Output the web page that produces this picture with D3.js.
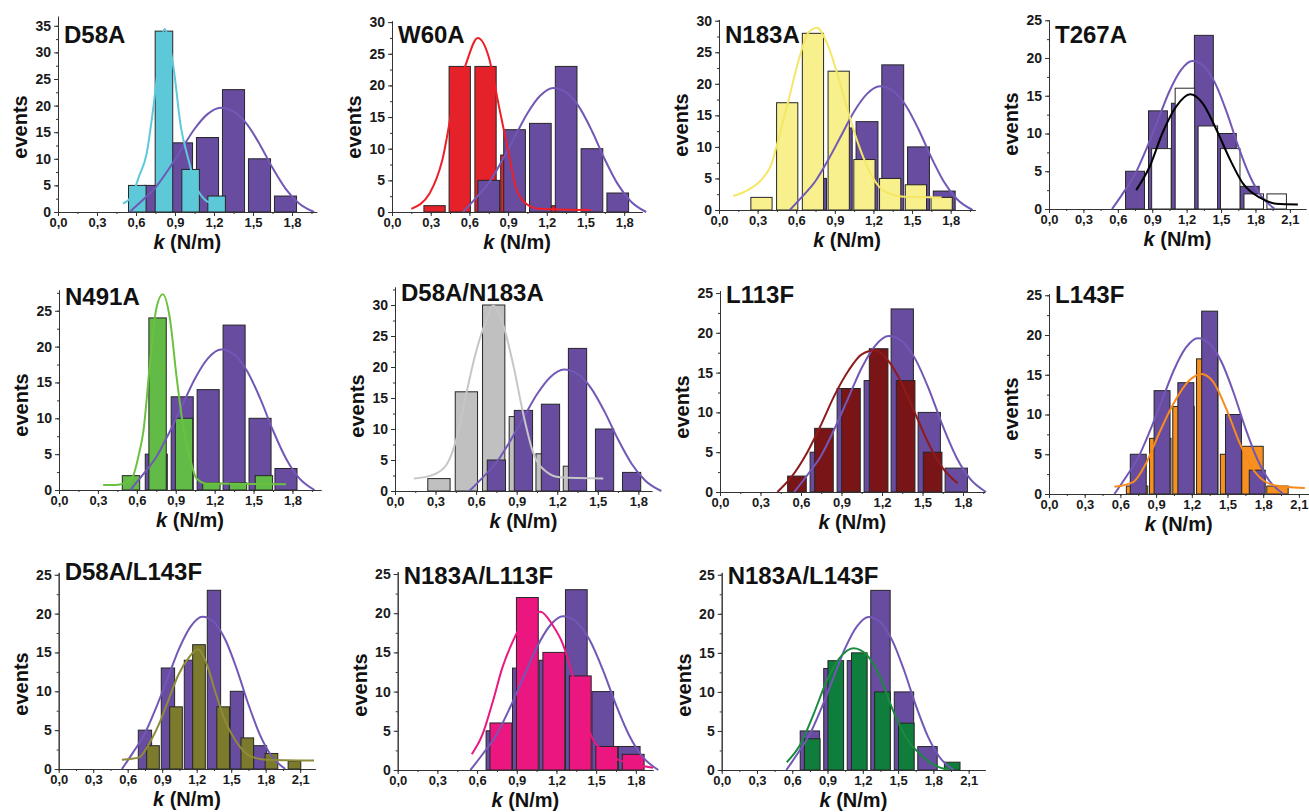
<!DOCTYPE html>
<html>
<head>
<meta charset="utf-8">
<script src="https://cdn.jsdelivr.net/npm/d3@7"></script>
<style>
    body { margin: 0; background: #fff; }
    svg { font-family: "Liberation Sans", Arial, sans-serif; font-weight: bold; }
</style>
</head>
<body>
<svg id="chart" width="1309" height="812"></svg>
<script>
// wild type histogram, repeated in every panel
const wtCenters = [0.75, 0.95, 1.15, 1.35, 1.55, 1.75];
const wtCounts = [5, 13, 14, 23, 10, 3];
const wtFit = [[0.55, 0], [0.65, 2.2], [0.75, 4.6], [0.85, 8], [0.95, 11.8], [1.05, 15.6], [1.15, 18.4], [1.25, 19.6],
    [1.35, 18.9], [1.45, 16.6], [1.55, 12.8], [1.65, 8.3], [1.75, 4.4], [1.85, 1.7], [1.97, 0]];

// mutants
const d58aCenters = [0.61, 0.815, 1.02, 1.22];
const d58aCounts = [5, 34, 8, 3];
const d58aFit = [[0.5, 1.6], [0.565, 2.9], [0.623, 6.7], [0.682, 11], [0.73, 19], [0.78, 29], [0.818, 34.4], [0.887, 27.4],
    [0.945, 16], [1.004, 9.8], [1.062, 4.8], [1.13, 2.3], [1.17, 1.7]];

const w60aCenters = [0.33, 0.525, 0.725, 0.925, 1.32];
const w60aCounts = [1, 23, 23, 9, 1];
const w60aFit = [[0.15, 0.5], [0.29, 2.9], [0.39, 8.2], [0.48, 17.6], [0.57, 23.2], [0.665, 27.5], [0.75, 24.5], [0.83, 16.6],
    [0.9, 9.7], [0.96, 3.9], [1.04, 1.3], [1.14, 0.5], [1.54, 0.3]];

const n183aCenters = [0.33, 0.53, 0.73, 0.93, 1.13, 1.33, 1.53, 1.73];
const n183aCounts = [2, 17, 28, 22, 8, 5, 4, 2];
const n183aFit = [[0.11, 2.2], [0.227, 3.2], [0.33, 4.8], [0.41, 7.4], [0.46, 11.1], [0.54, 17.4], [0.62, 23.8], [0.69, 28],
    [0.76, 28.9], [0.84, 26.4], [0.91, 22.2], [1.0, 15.8], [1.08, 10.6], [1.19, 5.3], [1.29, 2.9], [1.44, 2.1], [1.73, 2.0]];

const t267aCenters = [0.98, 1.185, 1.385, 1.58, 1.785, 1.985];
const t267aCounts = [8, 16, 11, 8, 2, 2];
const t267aFit = [[0.76, 2.5], [0.88, 5.7], [0.99, 10.1], [1.11, 13.6], [1.23, 15.2], [1.34, 14], [1.46, 10.5], [1.58, 6.5],
    [1.69, 3.4], [1.84, 1.5], [1.98, 0.7], [2.17, 0.6]];

const n491aCenters = [0.555, 0.76, 0.964, 1.175, 1.38, 1.58];
const n491aCounts = [2, 24, 10, 1, 1, 2];
const n491aFit = [[0.34, 0.7], [0.44, 0.7], [0.56, 1.6], [0.62, 5.3], [0.65, 8.1], [0.7, 17.4], [0.75, 25.3], [0.8, 27.3],
    [0.855, 23.9], [0.905, 16], [0.956, 9], [1.01, 4.4], [1.06, 1.6], [1.14, 0.9], [1.75, 0.8]];

const d58aN183aCenters = [0.325, 0.528, 0.73, 0.927, 1.125, 1.327];
const d58aN183aCounts = [2, 16, 30, 12, 6, 4];
const d58aN183aFit = [[0.14, 2], [0.28, 2.6], [0.38, 4.2], [0.456, 8.5], [0.53, 16], [0.6, 22.5], [0.68, 27.8], [0.727, 29.9],
    [0.8, 26.8], [0.875, 20.3], [0.95, 12.3], [1.02, 6.3], [1.12, 3.1], [1.22, 2.2], [1.54, 2]];

const l113fCenters = [0.57, 0.77, 0.97, 1.175, 1.375, 1.575];
const l113fCounts = [2, 8, 13, 18, 14, 5];
const l113fFit = [[0.425, 0], [0.525, 1.8], [0.65, 5.1], [0.75, 8.5], [0.85, 12.2], [0.95, 15.2], [1.05, 17.3], [1.15, 17.8],
    [1.25, 16.4], [1.35, 13.5], [1.45, 9.7], [1.55, 5.9], [1.65, 3], [1.76, 1.1]];

const l143fCenters = [0.74, 0.935, 1.13, 1.33, 1.53, 1.71, 1.92];
const l143fCounts = [1, 7, 11, 17, 5, 6, 1];
const l143fFit = [[0.55, 0.9], [0.706, 1.5], [0.82, 4], [0.93, 7.8], [1.04, 11.2], [1.18, 14.3], [1.28, 15.1], [1.38, 14.1],
    [1.49, 10.7], [1.6, 6.5], [1.71, 3.2], [1.85, 1.3], [1.99, 0.9], [2.15, 0.75]];

const d58aL143fCenters = [0.82, 1.02, 1.22, 1.43, 1.64, 1.85, 2.05];
const d58aL143fCounts = [3, 8, 16, 8, 4, 2, 1];
const d58aL143fFit = [[0.55, 1.2], [0.7, 1.5], [0.78, 3.1], [0.87, 5.7], [0.96, 9.1], [1.04, 12.1], [1.13, 14.3], [1.21, 15.4],
    [1.29, 13.4], [1.36, 10], [1.45, 6.1], [1.54, 3.6], [1.65, 1.8], [1.8, 1.2], [2.22, 1.1]];

const n183aL113fCenters = [0.78, 0.98, 1.18, 1.38, 1.58, 1.78];
const n183aL113fCounts = [6, 22, 15, 12, 3, 2];
const n183aL113fFit = [[0.56, 2], [0.64, 4.5], [0.72, 8.8], [0.79, 13], [0.87, 16.4], [0.945, 18.8], [1.02, 20], [1.08, 20.2],
    [1.17, 18.5], [1.25, 16], [1.32, 12.2], [1.4, 7.5], [1.47, 4.1], [1.57, 2.2], [1.7, 1.1], [1.85, 0.5], [1.93, 0.3]];

const n183aL143fCenters = [0.77, 0.97, 1.17, 1.367, 1.57, 1.96];
const n183aL143fCounts = [4, 14, 15, 10, 6, 1];
const n183aL143fFit = [[0.553, 1], [0.666, 3.2], [0.78, 7.1], [0.89, 11.3], [1.0, 14.3], [1.12, 15.6], [1.23, 14.8], [1.35, 11.8],
    [1.46, 7.5], [1.57, 4.1], [1.69, 2], [1.8, 0.7], [1.94, 0]];

const wtFill = "#674c9f";
const wtLine = "#7258b6";

// layout of the 11 panels (pixel origin, pixels per unit, axis extents)
const panels = [
    { name: "D58A", centers: d58aCenters, counts: d58aCounts, fit: d58aFit, fill: "#5cc8d8", line: "#5ec9dc",
      x0: 58, xUnit: 130, xMax: 1.99, y0: 212, yUnit: 5.32, yMax: 36.8, ty: 43, wtW: 0.17, mutW: 0.135, wtFront: false },
    { name: "W60A", centers: w60aCenters, counts: w60aCounts, fit: w60aFit, fill: "#e52129", line: "#ee1f29",
      x0: 392, xUnit: 129, xMax: 1.94, y0: 212, yUnit: 6.33, yMax: 30.2, ty: 43, wtW: 0.168, mutW: 0.165, wtFront: true },
    { name: "N183A", centers: n183aCenters, counts: n183aCounts, fit: n183aFit, fill: "#f8f08c", line: "#f4e766",
      x0: 719, xUnit: 128.7, xMax: 1.99, y0: 210, yUnit: 6.31, yMax: 30.2, ty: 43, wtW: 0.17, mutW: 0.165, wtFront: false },
    { name: "T267A", centers: t267aCenters, counts: t267aCounts, fit: t267aFit, fill: "#ffffff", line: "#000000",
      x0: 1049, xUnit: 114.7, xMax: 2.24, y0: 209, yUnit: 7.55, yMax: 25.05, ty: 43, wtW: 0.165, mutW: 0.17, wtFront: false },
    { name: "N491A", centers: n491aCenters, counts: n491aCounts, fit: n491aFit, fill: "#62bb46", line: "#6cc240",
      x0: 59, xUnit: 129.7, xMax: 2.02, y0: 490, yUnit: 7.17, yMax: 27.9, ty: 305, wtW: 0.17, mutW: 0.134, wtFront: false },
    { name: "D58A/N183A", centers: d58aN183aCenters, counts: d58aN183aCounts, fit: d58aN183aFit, fill: "#c0c0c0", line: "#c6c6c6",
      x0: 395, xUnit: 135.2, xMax: 1.9, y0: 491, yUnit: 6.2, yMax: 32.9, ty: 301, wtW: 0.135, mutW: 0.165, wtFront: true },
    { name: "L113F", centers: l113fCenters, counts: l113fCounts, fit: l113fFit, fill: "#7a1517", line: "#8e1a1c",
      x0: 720, xUnit: 135, xMax: 1.96, y0: 492, yUnit: 7.96, yMax: 25.3, ty: 303, wtW: 0.165, mutW: 0.138, wtFront: false },
    { name: "L143F", centers: l143fCenters, counts: l143fCounts, fit: l143fFit, fill: "#f7901e", line: "#f68b1f",
      x0: 1049, xUnit: 119, xMax: 2.18, y0: 494, yUnit: 7.95, yMax: 25.2, ty: 303, wtW: 0.134, mutW: 0.18, wtFront: true },
    { name: "D58A/L143F", centers: d58aL143fCenters, counts: d58aL143fCounts, fit: d58aL143fFit, fill: "#7b7a2d", line: "#8e8c38",
      x0: 58.7, xUnit: 115, xMax: 2.23, y0: 769, yUnit: 7.77, yMax: 25.3, ty: 580, wtW: 0.116, mutW: 0.11, wtFront: false },
    { name: "N183A/L113F", centers: n183aL113fCenters, counts: n183aL113fCounts, fit: n183aL113fFit, fill: "#ec1681", line: "#ea177f",
      x0: 397.7, xUnit: 132.3, xMax: 1.93, y0: 770, yUnit: 7.84, yMax: 25.3, ty: 584, wtW: 0.164, mutW: 0.165, wtFront: false },
    { name: "N183A/L143F", centers: n183aL143fCenters, counts: n183aL143fCounts, fit: n183aL143fFit, fill: "#0f7d3c", line: "#1a8b3f",
      x0: 721.7, xUnit: 117.6, xMax: 2.24, y0: 770, yUnit: 7.81, yMax: 25.3, ty: 584, wtW: 0.165, mutW: 0.133, wtFront: false }
];

const svg = d3.select("#chart");
const fmt = d => d.toFixed(1).replace(".", ",");

function drawBars(g, x, y, centers, counts, w, fill) {
    g.selectAll(null)
        .data(centers.map((c, i) => ({ c: c, n: counts[i] })))
        .join("rect")
        .attr("x", d => x(d.c - w / 2))
        .attr("width", d => x(d.c + w / 2) - x(d.c - w / 2))
        .attr("y", d => y(d.n))
        .attr("height", d => y(0) - y(d.n))
        .attr("fill", fill)
        .attr("stroke", "#262626")
        .attr("stroke-width", 1);
}

panels.forEach(p => {
    const g = svg.append("g");
    const x = d3.scaleLinear().domain([0, p.xMax]).range([p.x0, p.x0 + p.xMax * p.xUnit]);
    const y = d3.scaleLinear().domain([0, p.yMax]).range([p.y0, p.y0 - p.yMax * p.yUnit]);
    const line = d3.line().x(d => x(d[0])).y(d => y(d[1])).curve(d3.curveMonotoneX);

    if (p.wtFront) {
        drawBars(g, x, y, p.centers, p.counts, p.mutW, p.fill);
        drawBars(g, x, y, wtCenters, wtCounts, p.wtW, wtFill);
    } else {
        drawBars(g, x, y, wtCenters, wtCounts, p.wtW, wtFill);
        drawBars(g, x, y, p.centers, p.counts, p.mutW, p.fill);
    }

    g.append("path").datum(wtFit)
        .attr("d", line).attr("fill", "none")
        .attr("stroke", wtLine).attr("stroke-width", 2);
    g.append("path").datum(p.fit)
        .attr("d", line).attr("fill", "none")
        .attr("stroke", p.line).attr("stroke-width", 2);

    // x axis: minor then major ticks
    g.append("g")
        .attr("transform", `translate(0,${p.y0})`)
        .call(d3.axisBottom(x).tickValues(d3.range(0, p.xMax + 1e-6, 0.15)).tickSizeInner(2).tickSizeOuter(0).tickFormat(""));
    g.append("g")
        .attr("class", "xaxis")
        .attr("transform", `translate(0,${p.y0})`)
        .call(d3.axisBottom(x).tickValues(d3.range(0, p.xMax + 1e-6, 0.3)).tickSizeInner(4).tickSizeOuter(0).tickPadding(2).tickFormat(fmt));

    // y axis
    g.append("g")
        .attr("transform", `translate(${p.x0},0)`)
        .call(d3.axisLeft(y).tickValues(d3.range(0, p.yMax + 1e-6, 2.5)).tickSizeInner(2).tickSizeOuter(0).tickFormat(""));
    g.append("g")
        .attr("transform", `translate(${p.x0},0)`)
        .call(d3.axisLeft(y).tickValues(d3.range(0, p.yMax + 1e-6, 5)).tickSizeInner(4).tickSizeOuter(0).tickFormat(d3.format("d")));

    g.selectAll(".domain, .tick line").attr("stroke", "#333").attr("stroke-width", 1);
    g.selectAll(".tick text")
        .attr("fill", "#1a1a1a")
        .style("font-size", "14px")
        .style("font-weight", "bold");
    g.selectAll(".xaxis .tick text").style("font-size", "13px");

    // panel title
    g.append("text")
        .attr("x", p.x0 + 6)
        .attr("y", p.ty)
        .style("font-size", "24px")
        .attr("fill", "#111")
        .text(p.name);

    // axis titles
    g.append("text")
        .attr("transform", `translate(${p.x0 - 38},${p.y0 - 85}) rotate(-90)`)
        .attr("text-anchor", "middle")
        .attr("dy", "0.35em")
        .style("font-size", "20px")
        .attr("fill", "#111")
        .text("events");

    const xl = g.append("text")
        .attr("x", (x.range()[0] + x.range()[1]) / 2)
        .attr("y", p.y0 + 37)
        .attr("text-anchor", "middle")
        .style("font-size", "20px")
        .attr("fill", "#111");
    xl.append("tspan").style("font-style", "italic").text("k");
    xl.append("tspan").text(" (N/m)");
});
</script>
</body>
</html>
